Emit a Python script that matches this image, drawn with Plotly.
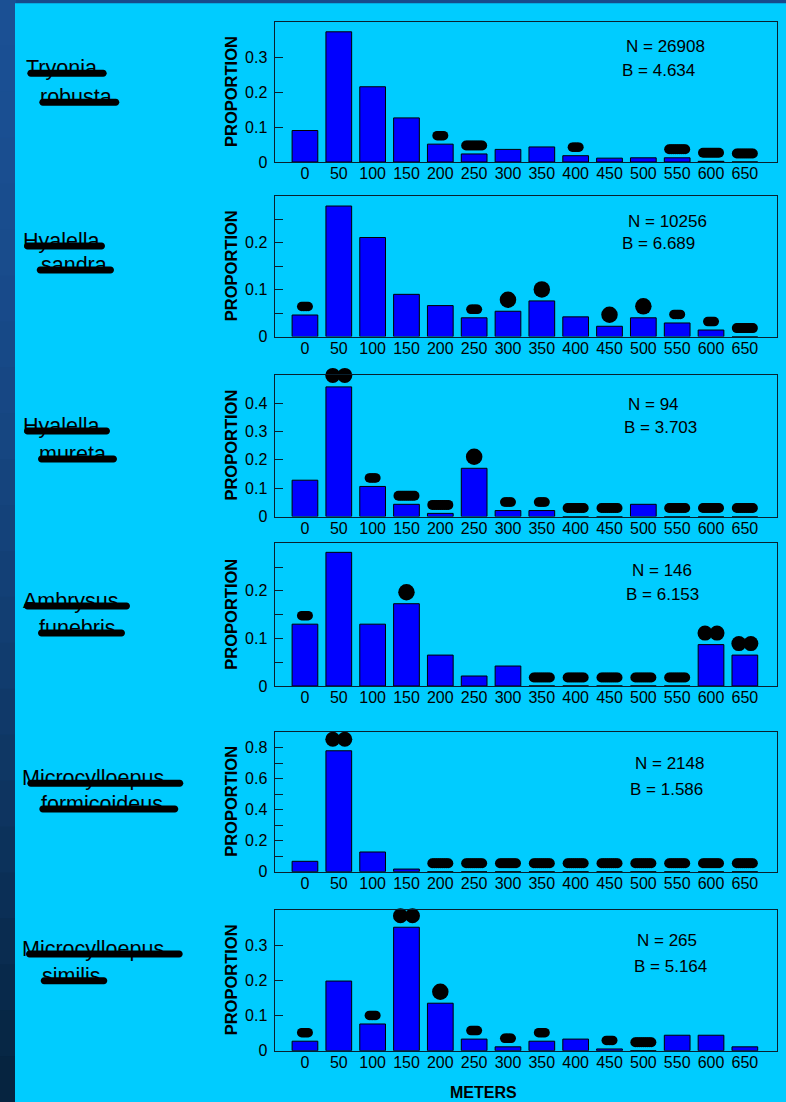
import plotly.graph_objects as go

W, H = 786, 1102
FONT = "Liberation Sans, Arial, sans-serif"

# ---- data -------------------------------------------------------------
DISTANCES = ["0", "50", "100", "150", "200", "250", "300", "350",
             "400", "450", "500", "550", "600", "650"]

GENUS = ["Tryonia", "Hyalella", "Hyalella", "Ambrysus",
         "Microcylloepus", "Microcylloepus"]
EPITHET = ["robusta", "sandra", "mureta", "funebris", "formicoideus", "similis"]
N_TOTAL = [26908, 10256, 94, 146, 2148, 265]
B_INDEX = ["4.634", "6.689", "3.703", "6.153", "1.586", "5.164"]

tryonia_robusta = [0.090, 0.372, 0.215, 0.126, 0.051, 0.023, 0.036,
                   0.043, 0.018, 0.011, 0.012, 0.012, 0.002, 0.0]
hyalella_sandra = [0.046, 0.278, 0.211, 0.090, 0.066, 0.040, 0.054,
                   0.076, 0.042, 0.022, 0.040, 0.029, 0.014, 0.0]
hyalella_mureta = [0.128, 0.457, 0.106, 0.043, 0.011, 0.170, 0.021,
                   0.021, 0.0, 0.0, 0.043, 0.0, 0.0, 0.0]
ambrysus_funebris = [0.130, 0.281, 0.130, 0.173, 0.065, 0.021, 0.042,
                     0.0, 0.0, 0.0, 0.0, 0.0, 0.087, 0.065]
microcylloepus_formicoideus = [0.067, 0.779, 0.127, 0.017, 0.0, 0.0, 0.0,
                               0.0, 0.0, 0.0, 0.0, 0.0, 0.0, 0.0]
microcylloepus_similis = [0.027, 0.198, 0.076, 0.351, 0.135, 0.033, 0.011,
                          0.027, 0.033, 0.005, 0.0, 0.044, 0.044, 0.011]

# selection signs above each distance class ("+" preferred, "-" avoided)
signs_tryonia_robusta = ["", "+", "", "", "-", "--", "", "", "-", "", "", "--", "--", "--"]
signs_hyalella_sandra = ["-", "", "", "", "", "-", "+", "+", "", "+", "+", "-", "-", "--"]
signs_hyalella_mureta = ["", "++", "-", "--", "--", "+", "-", "-", "--", "--", "", "--", "--", "--"]
signs_ambrysus_funebris = ["-", "", "", "+", "", "", "", "--", "--", "--", "--", "--", "++", "++"]
signs_microcylloepus_formicoideus = ["", "++", "", "", "--", "--", "--", "--", "--", "--", "--", "--", "--", "--"]
signs_microcylloepus_similis = ["-", "", "-", "++", "+", "-", "-", "-", "", "-", "--", "", "", ""]

Y_MAX = [0.4, 0.3, 0.5, 0.3, 0.9, 0.4]
Y_TICKS = [
    [0, 0.1, 0.2, 0.3],
    [0, 0.05, 0.1, 0.15, 0.2, 0.25],
    [0, 0.1, 0.2, 0.3, 0.4],
    [0, 0.05, 0.1, 0.15, 0.2, 0.25],
    [0, 0.1, 0.2, 0.3, 0.4, 0.5, 0.6, 0.7, 0.8],
    [0, 0.1, 0.2, 0.3],
]
Y_TICK_TEXT = [
    ["0", "0.1", "0.2", "0.3"],
    ["0", "", "0.1", "", "0.2", ""],
    ["0", "0.1", "0.2", "0.3", "0.4"],
    ["0", "", "0.1", "", "0.2", ""],
    ["0", "", "0.2", "", "0.4", "", "0.6", "", "0.8"],
    ["0", "0.1", "0.2", "0.3"],
]

PROPORTIONS = [tryonia_robusta, hyalella_sandra, hyalella_mureta,
               ambrysus_funebris, microcylloepus_formicoideus,
               microcylloepus_similis]
SIGNS = [signs_tryonia_robusta, signs_hyalella_sandra, signs_hyalella_mureta,
         signs_ambrysus_funebris, signs_microcylloepus_formicoideus,
         signs_microcylloepus_similis]

# ---- layout geometry (pixels) ----------------------------------------
PLOT_LEFT, PLOT_RIGHT = 274.5, 777
X_RANGE = [-0.9, 13.95]
PANEL_TOP = [22, 195.7, 374.7, 543.3, 732, 910]
PANEL_BOTTOM = [162, 336.6, 516.5, 686, 871.7, 1050.7]
N_POS = [(665, 46.7), (667, 221.7), (653, 404.3), (661.5, 570.7), (669, 763.3), (666.7, 940.7)]
B_POS = [(658.3, 70), (658.3, 243.3), (660, 427.7), (662, 594.3), (666.5, 789), (670, 966)]
# species label: (text left, stroke y, stroke x0, stroke x1) for each of two lines
LABEL_LINES = [
    [(27, 73.3, 27.3, 106.7), (40.7, 102.3, 39.3, 119.3)],
    [(24, 246, 24, 105), (41.7, 270, 36.7, 114)],
    [(24, 431, 24, 110), (40, 459, 38, 117)],
    [(24, 606, 24, 130), (40, 633, 38, 125)],
    [(22.7, 783.3, 27.3, 183.3), (41.7, 809, 39.3, 178.3)],
    [(22.7, 954, 26, 182.7), (43.3, 980.7, 40.7, 107.3)],
]

# sign glyphs built from overlapping round dots: (dx px, lift px above bar, dot size px)
SIGN_GLYPHS = {
    "-": [(dx, 8.5, 9.5) for dx in (-3.25, -1.6, 0, 1.6, 3.25)],
    "--": [(dx, 8.5, 10) for dx in (-8, -6, -4, -2, 0, 2, 4, 6, 8)],
    "+": [(0, 11.5, 16.5)],
    "++": [(-6, 11.5, 15), (6, 11.5, 15)],
}


def fx(px):
    return px / W


def fy(py):
    return 1 - py / H


K = 0.5523


def pill(w, h):
    r = h / 2
    a = w / 2 - r
    k = K * r
    pts = [
        f"M{-a:.2f},{-r:.2f}",
        f"L{a:.2f},{-r:.2f}",
        f"C{a + k:.2f},{-r:.2f} {a + r:.2f},{-k:.2f} {a + r:.2f},0",
        f"C{a + r:.2f},{k:.2f} {a + k:.2f},{r:.2f} {a:.2f},{r:.2f}",
        f"L{-a:.2f},{r:.2f}",
        f"C{-a - k:.2f},{r:.2f} {-a - r:.2f},{k:.2f} {-a - r:.2f},0",
        f"C{-a - r:.2f},{-k:.2f} {-a - k:.2f},{-r:.2f} {-a:.2f},{-r:.2f}",
        "Z",
    ]
    return " ".join(pts)


fig = go.Figure()
shapes = []
annotations = []

# background: dark blue frame with a cyan slide area
strip_top = (27, 80, 148)
strip_bottom = (6, 36, 64)
n_bands = 24
for b in range(n_bands):
    t = b / (n_bands - 1)
    col = tuple(int(strip_top[j] + (strip_bottom[j] - strip_top[j]) * t ** 1.6) for j in range(3))
    shapes.append(dict(type="rect", xref="paper", yref="paper", layer="below",
                       x0=0, x1=fx(16), y0=max(0, fy(H * (b + 1) / n_bands + 1)),
                       y1=fy(H * b / n_bands),
                       fillcolor=f"rgb{col}", line=dict(width=0)))
shapes.append(dict(type="rect", xref="paper", yref="paper", layer="below",
                   x0=fx(15), x1=1, y0=0, y1=fy(3.3),
                   fillcolor="#00CCFF", line=dict(width=0)))

cat_px = (PLOT_RIGHT - PLOT_LEFT) / (X_RANGE[1] - X_RANGE[0])

layout_axes = {}
for i in range(6):
    sfx = "" if i == 0 else str(i + 1)
    xa, ya = "x" + sfx, "y" + sfx
    vals = PROPORTIONS[i]
    xs = list(range(len(DISTANCES)))
    fig.add_trace(go.Bar(
        x=xs, y=vals, xaxis=xa, yaxis=ya,
        width=0.76, marker=dict(color="#0000FF", line=dict(color="#000000", width=1)),
        showlegend=False, hoverinfo="skip"))

    # selection signs sitting just above the top of each bar
    unit_px = (PANEL_BOTTOM[i] - PANEL_TOP[i]) / Y_MAX[i]
    sx, sy, ss = [], [], []
    for j, s in enumerate(SIGNS[i]):
        if not s:
            continue
        for dx, lift, size in SIGN_GLYPHS[s]:
            sx.append(xs[j] + dx / cat_px)
            sy.append(vals[j] + lift / unit_px)
            ss.append(size)
    fig.add_trace(go.Scatter(
        x=sx, y=sy, xaxis=xa, yaxis=ya, mode="markers", cliponaxis=False,
        marker=dict(color="#000000", size=ss, opacity=1, symbol="circle",
                    line=dict(width=0)),
        showlegend=False, hoverinfo="skip"))

    layout_axes["xaxis" + sfx] = dict(
        domain=[fx(PLOT_LEFT), fx(PLOT_RIGHT)], anchor=ya,
        range=X_RANGE, tickmode="array",
        tickvals=xs, ticktext=DISTANCES,
        ticks="", ticklabelstandoff=-3, showgrid=False, zeroline=False,
        showline=True, mirror=True, linecolor="#08202e", linewidth=1,
        tickfont=dict(family=FONT, size=16, color="#000000"), fixedrange=True)
    layout_axes["yaxis" + sfx] = dict(
        domain=[fy(PANEL_BOTTOM[i]), fy(PANEL_TOP[i])], anchor=xa,
        range=[0, Y_MAX[i]], tickmode="array",
        tickvals=Y_TICKS[i], ticktext=Y_TICK_TEXT[i],
        ticks="inside", ticklen=8, tickwidth=1, tickcolor="#08202e",
        ticklabelstandoff=3,
        showgrid=False, zeroline=False,
        showline=True, mirror=True, linecolor="#08202e", linewidth=1,
        tickfont=dict(family=FONT, size=16, color="#000000"), fixedrange=True)

    # N and B statistics
    annotations.append(dict(x=fx(N_POS[i][0]), y=fy(N_POS[i][1]), xref="paper", yref="paper",
                            text=f"N = {N_TOTAL[i]}", showarrow=False,
                            xanchor="center", yanchor="middle",
                            font=dict(family=FONT, size=17, color="#000000")))
    annotations.append(dict(x=fx(B_POS[i][0]), y=fy(B_POS[i][1]), xref="paper", yref="paper",
                            text=f"B = {B_INDEX[i]}", showarrow=False,
                            xanchor="center", yanchor="middle",
                            font=dict(family=FONT, size=17, color="#000000")))

    # y-axis title
    annotations.append(dict(x=fx(231), y=fy((PANEL_TOP[i] + PANEL_BOTTOM[i]) / 2),
                            xref="paper", yref="paper", text="<b>PROPORTION</b>",
                            textangle=-90, showarrow=False,
                            xanchor="center", yanchor="middle",
                            font=dict(family=FONT, size=16.5, color="#000000")))

    # species name, two lines, each with a heavy underline stroke
    for text, (tx, ly, lx0, lx1) in zip((GENUS[i], EPITHET[i]), LABEL_LINES[i]):
        annotations.append(dict(x=fx(tx - 3), y=fy(ly - 5), xref="paper", yref="paper",
                                text=text, showarrow=False,
                                xanchor="left", yanchor="middle",
                                font=dict(family=FONT, size=21.5, color="#000000")))
        shapes.append(dict(type="path", xref="paper", yref="paper",
                           xsizemode="pixel", ysizemode="pixel",
                           xanchor=fx((lx0 + lx1) / 2), yanchor=fy(ly),
                           path=pill(lx1 - lx0, 7), fillcolor="#000000",
                           line=dict(width=0)))

annotations.append(dict(x=fx(483), y=fy(1092.5), xref="paper", yref="paper",
                        text="<b>METERS</b>", showarrow=False,
                        xanchor="center", yanchor="middle",
                        font=dict(family=FONT, size=16, color="#000000")))

fig.update_layout(
    width=W, height=H,
    margin=dict(l=0, r=0, t=0, b=0, autoexpand=False),
    paper_bgcolor="#174a8c",
    plot_bgcolor="#00CCFF",
    showlegend=False,
    shapes=shapes,
    annotations=annotations,
    **layout_axes,
)

fig.write_html("out.html", config={"displayModeBar": False})
